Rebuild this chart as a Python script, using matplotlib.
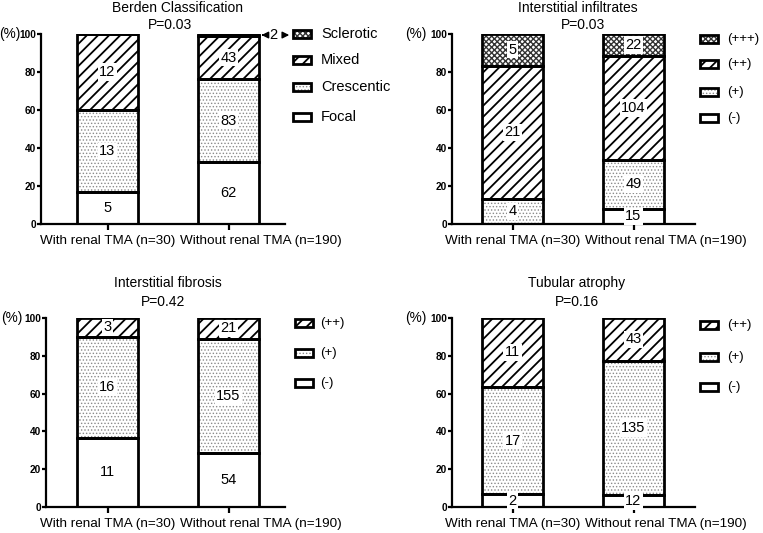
import matplotlib
matplotlib.use("Agg")
import matplotlib.pyplot as plt
from matplotlib.patches import Rectangle

plt.rcParams['font.family'] = ['Liberation Sans', 'DejaVu Sans']

groups = ["With renal TMA (n=30)", "Without renal TMA (n=190)"]

# Berden classification
berden_cats = ["Focal", "Crescentic", "Mixed", "Sclerotic"]
berden_n_with = [5, 13, 12, 0]
berden_n_without = [62, 83, 43, 2]
berden_pct_with = [16.7, 43.3, 40.0, 0.0]
berden_pct_without = [32.6, 43.7, 22.6, 1.1]

# Interstitial infiltrates
infil_cats = ["(-)", "(+)", "(++)", "(+++)"]
infil_n_with = [0, 4, 21, 5]
infil_n_without = [15, 49, 104, 22]
infil_pct_with = [0.0, 13.3, 70.0, 16.7]
infil_pct_without = [7.9, 25.8, 54.7, 11.6]

# Interstitial fibrosis
fib_cats = ["(-)", "(+)", "(++)"]
fib_n_with = [11, 16, 3]
fib_n_without = [54, 155, 21]
fib_pct_with = [36.7, 53.3, 10.0]
fib_pct_without = [28.4, 60.5, 11.1]

# Tubular atrophy
atr_cats = ["(-)", "(+)", "(++)"]
atr_n_with = [2, 17, 11]
atr_n_without = [12, 135, 43]
atr_pct_with = [6.7, 56.7, 36.7]
atr_pct_without = [6.3, 71.1, 22.6]

titles = ["Berden Classification", "Interstitial infiltrates", "Interstitial fibrosis", "Tubular atrophy"]
pvals = ["P=0.03", "P=0.03", "P=0.42", "P=0.16"]

# fill styles, bottom segment first
styles = [
    dict(hatch=None, hc='black', hlw=1.0),
    dict(hatch='.....', hc='#8a8a8a', hlw=0.6),
    dict(hatch='///', hc='black', hlw=1.3),
    dict(hatch='xxxxxx', hc='#333333', hlw=1.0),
]

W, H = 763, 533
# pixel layout: left, right, top, bottom of each axes, centre of first bar
layout = [
    (41, 285, 34, 224, 107.5),
    (452, 695, 34, 224, 512.5),
    (46, 285, 318, 507, 107.5),
    (452, 695, 318, 507, 512.5),
]
spacing = 121.0
title_off = [(19, 6.5), (19, 6.5), (25, 11.5), (25, 11.5)]
title_x = [0.58, 0.54, 0.5, 0.53]
p_x = [0.52, 0.58, 0.46, 0.53]
pct_off = [-14.5, -18, -17, -18]
# legend: handle left, text left, row centres (pixels), font size
legends = [
    (293, 321, [117, 87, 60, 34], 10.5),
    (700, 727, [118, 92, 64, 39], 9.5),
    (295, 320, [383, 353, 323], 9.5),
    (700, 727, [387, 357, 325], 9.5),
]


def hatch_bar(ax, x, h, b, st, width=0.5):
    bars = ax.bar(x, h, width, bottom=b, color='white', edgecolor=st['hc'],
                  hatch=st['hatch'], linewidth=0, zorder=2)
    for p in bars:
        p.set_hatch_linewidth(st['hlw'])
    ax.bar(x, h, width, bottom=b, fill=False, edgecolor='black', linewidth=2, zorder=3)


def legend_entry(fig, x, y, label, st, tx, fs):
    r1 = Rectangle((x / W, 1 - (y + 4) / H), 18 / W, 8 / H, transform=fig.transFigure,
                   facecolor='white', edgecolor=st['hc'], hatch=st['hatch'], linewidth=0)
    r1.set_hatch_linewidth(st['hlw'])
    r2 = Rectangle((x / W, 1 - (y + 4) / H), 18 / W, 8 / H, transform=fig.transFigure,
                   facecolor='none', edgecolor='black', linewidth=2)
    fig.add_artist(r1)
    fig.add_artist(r2)
    fig.text(tx / W, 1 - y / H, label, ha='left', va='center', fontsize=fs)


fig = plt.figure(figsize=(W / 100, H / 100), dpi=100)
renderer = fig.canvas.get_renderer()

panels = [
    (berden_cats, berden_n_with, berden_n_without, berden_pct_with, berden_pct_without),
    (infil_cats, infil_n_with, infil_n_without, infil_pct_with, infil_pct_without),
    (fib_cats, fib_n_with, fib_n_without, fib_pct_with, fib_pct_without),
    (atr_cats, atr_n_with, atr_n_without, atr_pct_with, atr_pct_without),
]

for k, (cats, nw, nwo, pw, pwo) in enumerate(panels):
    l, r, t, b, c0 = layout[k]
    ax = fig.add_axes([l / W, 1 - b / H, (r - l) / W, (b - t) / H])
    ax.set_xlim((l - c0) / spacing, (r - c0) / spacing)
    ax.set_ylim(0, 100)

    bottoms = [0.0, 0.0]
    for i in range(len(cats)):
        st = styles[i]
        heights = [pw[i], pwo[i]]
        counts = [nw[i], nwo[i]]
        hatch_bar(ax, [0, 1], heights, bottoms, st)
        for j in range(2):
            if counts[j] > 0 and heights[j] > 3:
                ax.text(j, bottoms[j] + heights[j] / 2, str(counts[j]), ha='center', va='center',
                        fontsize=10.5, zorder=4,
                        bbox=dict(facecolor='white', edgecolor='none', pad=1.2))
        bottoms = [bottoms[0] + heights[0], bottoms[1] + heights[1]]

    # axes styling
    for s in ['top', 'right']:
        ax.spines[s].set_visible(False)
    for s in ['left', 'bottom']:
        ax.spines[s].set_linewidth(1.6)
    ax.set_yticks([0, 20, 40, 60, 80, 100])
    ax.set_xticks([0, 1])
    ax.set_xticklabels(['', ''])
    ax.tick_params(axis='y', length=3, width=1.6, pad=0.5, labelsize=7.3)
    ax.tick_params(axis='x', length=4, width=1.6)
    for lab in ax.get_yticklabels():
        lab.set_fontweight('bold')
    ax.annotate("(%)", xy=(0, 100), xycoords=('axes fraction', 'data'),
                xytext=(pct_off[k], 0), textcoords='offset points', ha='right', va='center', fontsize=9.8)

    # group labels: second one starts right after the first (no overlap)
    ly = 1 - (b + 17) / H
    t1 = fig.text((c0) / W, ly, groups[0], ha='center', va='center', fontsize=9.7)
    x1 = t1.get_window_extent(renderer).x1
    fig.text((x1 + 5) / W, ly, groups[1], ha='left', va='center', fontsize=9.7)

    ax.annotate(titles[k], xy=(title_x[k], 1), xycoords=('data', 'axes fraction'),
                xytext=(0, title_off[k][0]), textcoords='offset points',
                ha='center', va='center', fontsize=10, annotation_clip=False)
    ax.annotate(pvals[k], xy=(p_x[k], 1), xycoords=('data', 'axes fraction'),
                xytext=(0, title_off[k][1]), textcoords='offset points',
                ha='center', va='center', fontsize=10, annotation_clip=False)

    hx, tx, rows, fs = legends[k]
    for i in range(len(cats)):
        legend_entry(fig, hx, rows[i], cats[i], styles[i], tx, fs)

    # small sclerotic segment labelled outside the bar
    if k == 0:
        y = 100 - pwo[3] / 2
        xt = (273 - c0) / spacing
        ax.annotate("", xy=(1.25, y), xytext=(xt - 0.06, y),
                    arrowprops=dict(arrowstyle='-|>', color='black', lw=1, mutation_scale=10),
                    annotation_clip=False)
        ax.annotate("", xy=((292 - c0) / spacing, y), xytext=(xt + 0.06, y),
                    arrowprops=dict(arrowstyle='-|>', color='black', lw=1, mutation_scale=10),
                    annotation_clip=False)
        ax.text(xt, y, str(nwo[3]), ha='center', va='center', fontsize=10.5, clip_on=False)

fig.savefig("out.png", dpi=100)
